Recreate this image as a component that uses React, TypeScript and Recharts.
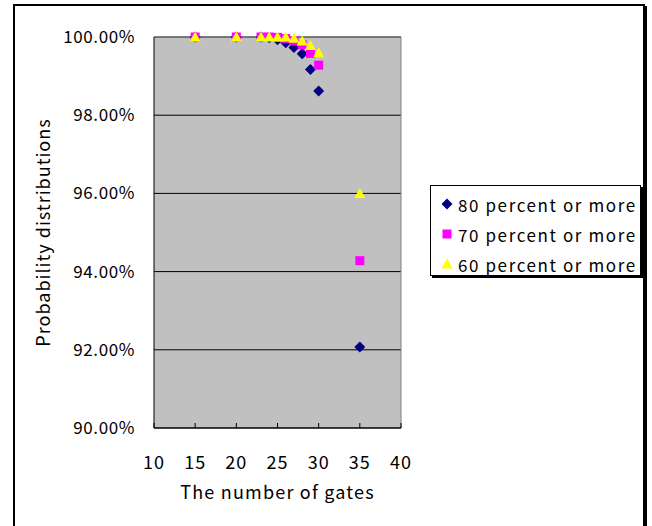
import { ScatterChart, Scatter, XAxis, YAxis, CartesianGrid, Legend, ReferenceLine } from 'recharts';

const gates = [15, 20, 23, 24, 25, 26, 27, 28, 29, 30, 35];
const pct80 = [100, 100, 100, 99.98, 99.93, 99.85, 99.73, 99.57, 99.17, 98.62, 92.07];
const pct70 = [100, 100, 100, 100, 99.99, 99.96, 99.9, 99.8, 99.58, 99.28, 94.28];
const pct60 = [100, 100, 100, 100, 100, 100, 99.97, 99.9, 99.78, 99.6, 96.0];
const seriesNames = ['80 percent or more', '70 percent or more', '60 percent or more'];
const seriesColors = ['#000080', '#ff00ff', '#ffff00'];
const xTicks = [10, 15, 20, 25, 30, 35, 40];
const yTicks = [90, 92, 94, 96, 98, 100];

const FONT = '"Noto Sans CJK JP", sans-serif';

const toPoints = (vals: number[]) => gates.map((g, i) => ({ x: g, y: vals[i] }));

const Diamond = ({ cx, cy, fill }: any) => (
  <path d={`M${cx},${cy - 5.5}L${cx + 5.5},${cy}L${cx},${cy + 5.5}L${cx - 5.5},${cy}Z`} fill={fill} />
);
const Square = ({ cx, cy, fill }: any) => <rect x={cx - 4.5} y={cy - 4.5} width={9} height={9} fill={fill} />;
const Triangle = ({ cx, cy, fill }: any) => (
  <path d={`M${cx},${cy - 5.5}L${cx + 5.5},${cy + 4.5}L${cx - 5.5},${cy + 4.5}Z`} fill={fill} />
);
const shapes = [Diamond, Square, Triangle];

const renderLegend = () => (
  <div
    style={{
      width: 211,
      height: 91,
      boxSizing: 'border-box',
      border: '1px solid #000',
      boxShadow: '2px 2px 0 #000',
      background: '#fff',
      padding: '3px 0 0 10px',
      fontFamily: FONT,
      fontSize: 17,
      letterSpacing: 1.6,
      color: '#000',
    }}
  >
    {seriesNames.map((name, i) => {
      const Shape = shapes[i];
      return (
        <div key={name} style={{ display: 'flex', alignItems: 'center', height: 30 }}>
          <svg width={12} height={12} style={{ marginRight: 5 }}>
            <Shape cx={6} cy={6} fill={seriesColors[i]} />
          </svg>
          <span>{name}</span>
        </div>
      );
    })}
  </div>
);

export default function App() {
  return (
    <div style={{ position: 'absolute', left: 0, top: 0, width: 652, height: 526, overflow: 'hidden', background: '#fff' }}>
      <div
        style={{
          position: 'absolute',
          left: 13,
          top: 4,
          width: 632,
          height: 560,
          boxSizing: 'border-box',
          border: '2px solid #000',
          boxShadow: '2px 2px 0 #000',
        }}
      />
      <ScatterChart
        width={652}
        height={526}
        margin={{ top: 37, right: 251, bottom: 40, left: 0 }}
        style={{ position: 'absolute', left: 0, top: 0 }}
      >
        <CartesianGrid horizontal vertical={false} stroke="#000" fill="#c0c0c0" />
        <XAxis
          type="number"
          dataKey="x"
          domain={[10, 40]}
          ticks={xTicks}
          interval={0}
          height={58}
          axisLine={{ stroke: '#000' }}
          tickLine={{ stroke: '#000' }}
          tickSize={-5}
          tickMargin={33}
          tick={{ fill: '#000', fontFamily: FONT, fontSize: 18, letterSpacing: 1 }}
          label={{
            value: 'The number of gates',
            position: 'bottom',
            offset: 0,
            fill: '#000',
            fontFamily: FONT,
            fontSize: 18,
            letterSpacing: 1.2,
          }}
        />
        <YAxis
          type="number"
          dataKey="y"
          domain={[90, 100]}
          ticks={yTicks}
          interval={0}
          width={154}
          axisLine={{ stroke: '#000' }}
          tickLine={false}
          tickSize={0}
          tickMargin={19}
          tickFormatter={(v: number) => `${v.toFixed(2)}%`}
          tick={{ fill: '#000', fontFamily: FONT, fontSize: 17, letterSpacing: 0.6 }}
          label={{
            value: 'Probability distributions',
            angle: -90,
            position: 'insideLeft',
            offset: 44,
            fill: '#000',
            fontFamily: FONT,
            fontSize: 18,
            letterSpacing: 1,
            style: { textAnchor: 'middle' },
          }}
        />
        <ReferenceLine y={100} stroke="#808080" />
        <ReferenceLine x={40} stroke="#808080" />
        <Legend
          layout="horizontal"
          verticalAlign="middle"
          align="center"
          content={renderLegend}
          wrapperStyle={{ left: 430, top: 185, width: 'auto', height: 'auto' }}
        />
        {seriesNames.map((name, i) => (
          <Scatter
            key={name}
            name={name}
            data={toPoints([pct80, pct70, pct60][i])}
            fill={seriesColors[i]}
            shape={shapes[i]}
            isAnimationActive={false}
          />
        ))}
      </ScatterChart>
    </div>
  );
}
